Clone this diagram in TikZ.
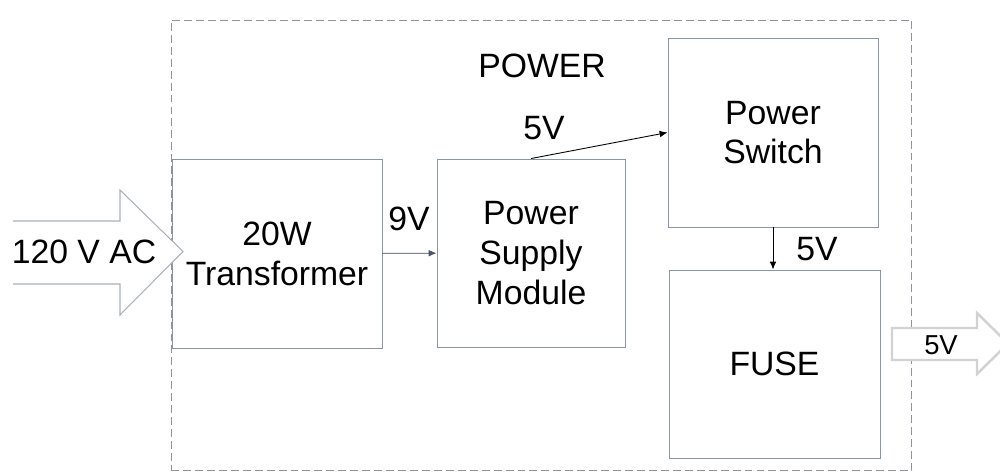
\documentclass[tikz,border=0pt]{standalone}
\usepackage{fontspec}
\setmainfont{Liberation Sans}
\usetikzlibrary{arrows.meta}
\definecolor{boxline}{HTML}{8A94A3}
\definecolor{frameline}{HTML}{8E949C}
\definecolor{bigarrow}{HTML}{AAB1B9}
\definecolor{outarrow}{HTML}{D2D2D2}
\definecolor{wire}{HTML}{4A5466}
\tikzset{
  block/.style={draw=boxline, line width=0.55pt, fill=white, rectangle,
    inner sep=0pt, align=center, font=\fontsize{19.2}{22.7}\selectfont},
  lbl/.style={inner sep=0pt, font=\fontsize{19.2}{22.7}\selectfont},
  wirearrow/.style={-{Latex[length=4.5pt,width=3.8pt]}, line width=0.5pt}
}
\begin{document}
\begin{tikzpicture}[x=0.02cm,y=-0.02cm]
\useasboundingbox (0,0) rectangle (1000,474);

% enclosing dashed frame
\node[draw=frameline, line width=0.6pt, dash pattern=on 4.5pt off 2.3pt,
  rectangle, minimum width=14.82cm, minimum height=9.02cm, inner sep=0pt]
  (frame) at (541.5,245.5) {};
\node[lbl] (title) at (542,66) {POWER};

% blocks
\node[block, minimum width=4.2cm, minimum height=3.78cm] (trans) at (277,253.5)
  {20W\\Transformer};
\node[block, minimum width=3.76cm, minimum height=3.76cm] (psm) at (531,253)
  {Power\\Supply\\Module};
\node[block, minimum width=4.2cm, minimum height=3.78cm] (sw) at (773,132.5)
  {Power\\Switch};
\node[block, minimum width=4.22cm, minimum height=3.76cm] (fuse) at (774.5,364)
  {FUSE};

% connections
\draw[wirearrow, draw=wire, fill=wire] (trans) -- (psm);
\node[lbl] (l9) at (409,219) {9V};
\draw[wirearrow] (psm.north) -- (sw.west);
\node[lbl] (l5a) at (544,128) {5V};
\draw[wirearrow] (sw.south) -- (sw.south |- fuse.north);
\node[lbl] (l5b) at (817,249) {5V};

% mains input arrow
\coordinate (inA) at (13,221);
\coordinate (inB) at (13,284);
\draw[draw=bigarrow, line width=0.6pt, fill=white]
  (inA) -- (120,221) -- (120,190) -- (183,251.5) -- (120,315) -- (120,284) -- (inB);
\node[lbl] (ac) at (84,252) {120 V AC};

% output arrow
\draw[draw=outarrow, line width=1.4pt, fill=white]
  (892,328) -- (977,328) -- (977,313) -- (1008,343.5) -- (977,374) -- (977,360)
  -- (892,360) -- cycle;
\node[lbl, font=\fontsize{15.6}{18}\selectfont] (out) at (941,345) {5V};
\end{tikzpicture}
\end{document}
